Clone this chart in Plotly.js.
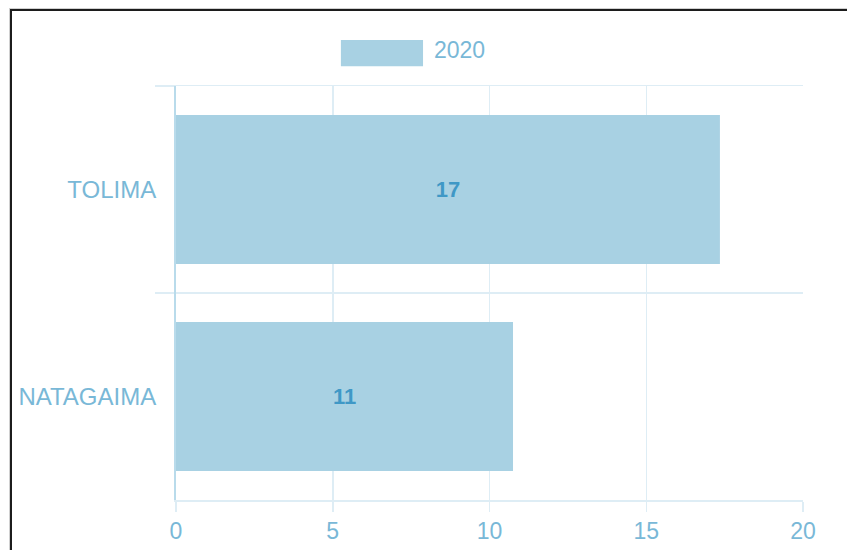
<!DOCTYPE html>
<html>
<head>
<meta charset="utf-8">
<script src="https://cdn.plot.ly/plotly-3.0.1.min.js"></script>
<style>
  html, body { margin: 0; padding: 0; background: #fff; }
  #wrap { position: relative; width: 847px; height: 550px; overflow: hidden; }
  #chart { position: absolute; left: 0; top: 0; width: 847px; height: 550px; }
  #frame { position: absolute; left: 10px; top: 9px; width: 900px; height: 600px;
           border-top: 2px solid #1c1c1c; border-left: 2px solid #1c1c1c;
           box-shadow: -1px -1px 0 #d0d0d0; pointer-events: none; }
</style>
</head>
<body>
<div id="wrap">
  <div id="chart"></div>
  <div id="frame"></div>
</div>
<script>
const categories = ['TOLIMA', 'NATAGAIMA'];
const seriesName = '2020';
const values2020 = [17.35, 10.75];
const xTicks = [0, 5, 10, 15, 20];

const tickColor = '#79b8d7';
const gridColor = '#deedf5';
const barColor = '#a8d1e3';
const labelColor = '#3f98c6';
const fontFamily = 'Liberation Sans, Arial, sans-serif';

const trace = {
  type: 'bar',
  orientation: 'h',
  name: seriesName,
  y: categories,
  x: values2020,
  marker: { color: barColor, line: { width: 0 } },
  text: values2020.map(v => String(Math.round(v))),
  textposition: 'inside',
  insidetextanchor: 'middle',
  textfont: { family: fontFamily, size: 22, color: labelColor, weight: 'bold' },
  hoverinfo: 'skip',
  showlegend: false
};

const layout = {
  width: 847,
  height: 550,
  margin: { l: 176, r: 44, t: 86, b: 50 },
  paper_bgcolor: '#ffffff',
  plot_bgcolor: '#ffffff',
  font: { family: fontFamily, size: 23, color: tickColor },
  bargap: 0.28,
  xaxis: {
    range: [0, 20],
    tickvals: xTicks,
    ticktext: xTicks.map(String),
    showgrid: true,
    gridcolor: gridColor,
    gridwidth: 1.5,
    ticks: 'outside',
    ticklen: 10,
    tickcolor: gridColor,
    tickwidth: 1.5,
    zeroline: false,
    showline: true,
    linecolor: gridColor,
    linewidth: 1.5,
    mirror: true,
    tickfont: { family: fontFamily, size: 23, color: tickColor },
    fixedrange: true
  },
  yaxis: {
    type: 'category',
    categoryorder: 'array',
    categoryarray: categories,
    autorange: 'reversed',
    tickson: 'boundaries',
    showgrid: true,
    gridcolor: gridColor,
    gridwidth: 1.5,
    ticks: 'outside',
    ticklen: 19,
    tickcolor: gridColor,
    tickwidth: 1.5,
    ticklabelstandoff: 13,
    showline: true,
    linecolor: '#b9dbeb',
    linewidth: 2,
    zeroline: false,
    tickfont: { family: fontFamily, size: 24, color: tickColor },
    fixedrange: true
  },
  shapes: [
    {
      type: 'rect', xref: 'paper', yref: 'paper',
      x0: 0.263, x1: 0.394, y0: 1.048, y1: 1.111,
      fillcolor: barColor, line: { width: 0 }
    }
  ],
  annotations: [
    {
      xref: 'paper', yref: 'paper',
      x: 0.409, y: 1.087, xanchor: 'left', yanchor: 'middle',
      text: seriesName, showarrow: false,
      font: { family: fontFamily, size: 23, color: tickColor }
    }
  ]
};

Plotly.newPlot('chart', [trace], layout, { displayModeBar: false, staticPlot: true });
</script>
</body>
</html>
